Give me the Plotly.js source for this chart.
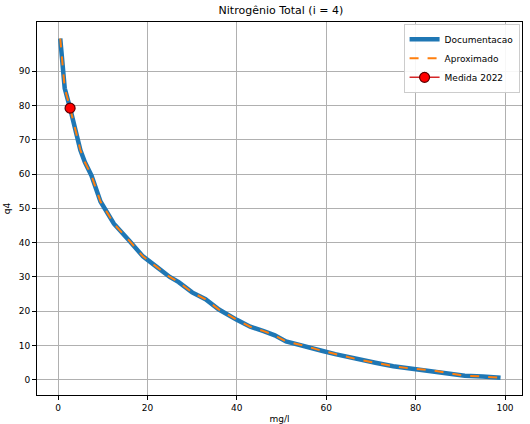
<!DOCTYPE html>
<html><head><script src="https://cdn.plot.ly/plotly-3.0.1.min.js"></script>
<style>body{margin:0}</style></head><body><div id="c" style="width:530px;height:424px"></div>
<script>
const xDoc = [0.5,1.5,2.7,4,5,6,7.5,9.5,12.5,16,19,22,25,27,30,33,36,40,43,46,48.5,51,55,59,62,67,71,75,79,83,87,91,95,99];
const yDoc = [99.5,85,79.2,72,67,63.5,59.5,52,45.5,40.5,36,33,30,28.5,25.5,23.5,20.5,17.5,15.5,14.2,13,11.2,10,8.5,7.5,6,5,4,3.3,2.9,2.1,1.2,1,0.6];
const xMeas = [2.7];
const yMeas = [79.2];
const data = [
 {x:xDoc,y:yDoc,mode:'lines',name:'Documentacao',line:{color:'#1f77b4',width:4.5}},
 {x:xDoc,y:yDoc,mode:'lines',name:'Aproximado',line:{color:'#ff7f0e',width:2,dash:'dash'}},
 {x:xMeas,y:yMeas,mode:'lines+markers',name:'Medida 2022',line:{color:'#d62728',width:1.5},marker:{color:'red',size:10,line:{color:'#5a0000',width:1.2}}}
];
const ax = {showline:true,mirror:true,linecolor:'#000',linewidth:1,gridcolor:'#b0b0b0',gridwidth:1,zeroline:false,ticks:'outside',ticklen:4,tickcolor:'#000',tickfont:{size:9,color:'#000'}};
const layout = {
 width:530,height:424,margin:{l:37,r:8,t:22,b:29},
 font:{family:'DejaVu Sans',color:'#000'},
 paper_bgcolor:'#fff',plot_bgcolor:'#fff',
 title:{text:'Nitrogênio Total (i = 4)',font:{size:11},x:0.53,y:0.985,yanchor:'top'},
 xaxis:Object.assign({},ax,{range:[-4.7,103.8],tickvals:[0,20,40,60,80,100],title:{text:'mg/l',font:{size:9},standoff:4}}),
 yaxis:Object.assign({},ax,{range:[-4.4,104.3],tickvals:[0,10,20,30,40,50,60,70,80,90],title:{text:'q4',font:{size:9},standoff:6}}),
 legend:{x:0.995,y:0.995,xanchor:'right',yanchor:'top',bgcolor:'rgba(255,255,255,0.9)',bordercolor:'#ccc',borderwidth:1,font:{size:9}},
 showlegend:true
};
Plotly.newPlot('c',data,layout,{displayModeBar:false});
</script></body></html>
